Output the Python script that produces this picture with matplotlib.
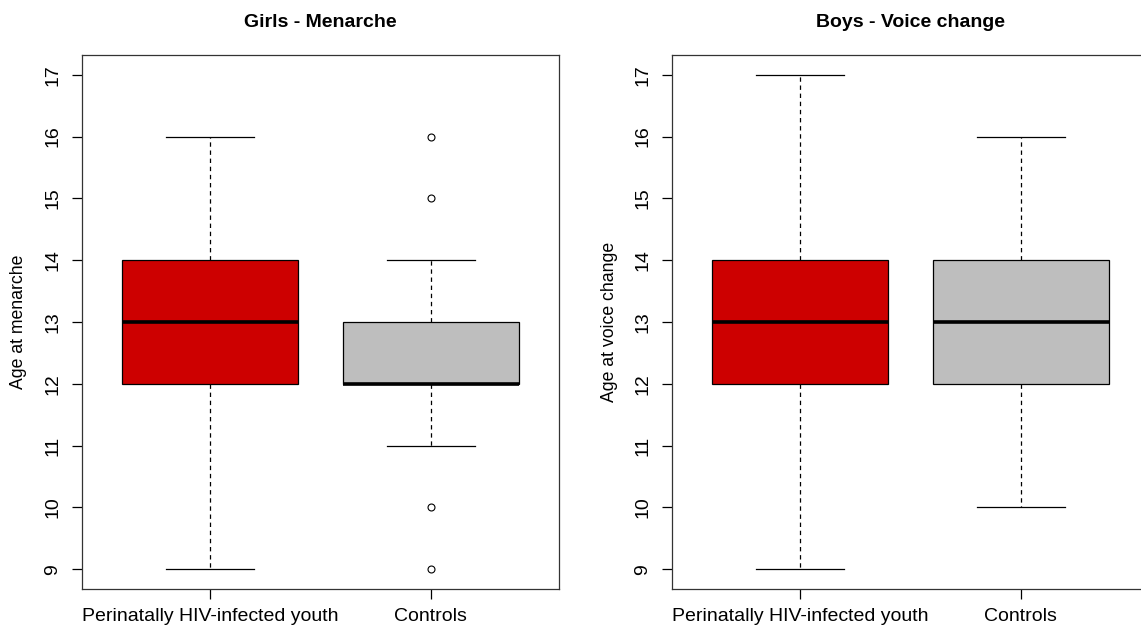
import matplotlib
matplotlib.use("Agg")
import matplotlib.pyplot as plt

plt.rcParams['font.family'] = ['Liberation Sans', 'DejaVu Sans']

groups = ["Perinatally HIV-infected youth", "Controls"]
box_colors = ["#CD0000", "#BEBEBE"]

# five-number summaries per group: low whisker, q1, median, q3, high whisker
girls_stats = [(9, 12, 13, 14, 16), (11, 12, 12, 13, 14)]
girls_outliers = [[], [9, 10, 15, 16]]
boys_stats = [(9, 12, 13, 14, 17), (10, 12, 13, 14, 16)]
boys_outliers = [[], []]

panels = [
    ("Girls - Menarche", "Age at menarche", girls_stats, girls_outliers),
    ("Boys - Voice change", "Age at voice change", boys_stats, boys_outliers),
]

fig = plt.figure(figsize=(11.41, 6.26), dpi=100)
W, H = 1141, 626
lefts = [82, 672]

for left, (title, ylabel, stats, outs) in zip(lefts, panels):
    ax = fig.add_axes([left / W, (H - 589) / H, 477 / W, 534 / H])
    bstats = []
    for lbl, s, o in zip(groups, stats, outs):
        lo, q1, med, q3, hi = s
        bstats.append(dict(label=lbl, whislo=lo, q1=q1, med=med, q3=q3,
                           whishi=hi, fliers=o))
    parts = ax.bxp(bstats, positions=[1, 2], widths=0.8, patch_artist=True,
                   showfliers=True,
                   boxprops=dict(edgecolor="black", linewidth=0.9),
                   medianprops=dict(color="black", linewidth=2.6, solid_capstyle="butt"),
                   whiskerprops=dict(color="black", linewidth=0.9, linestyle=(0, (3.5, 3))),
                   capprops=dict(color="black", linewidth=0.9),
                   capwidths=0.4,
                   flierprops=dict(marker="o", markersize=5, markerfacecolor="white",
                                   markeredgecolor="black", markeredgewidth=0.8))
    for patch, c in zip(parts["boxes"], box_colors):
        patch.set_facecolor(c)

    ax.set_xlim(0.42, 2.58)
    ax.set_ylim(8.68, 17.32)
    ax.set_yticks(range(9, 18))
    ax.set_xticks([1, 2])
    ax.set_xticklabels(groups, fontsize=14)
    for t in ax.get_yticklabels():
        t.set_rotation(90)
        t.set_va("center")
        t.set_fontsize(14)
    ax.tick_params(axis="both", direction="out", length=7, width=0.9)
    ax.tick_params(axis="x", pad=7)
    ax.tick_params(axis="y", pad=8)
    for sp in ax.spines.values():
        sp.set_linewidth(0.9)
        sp.set_color("#333333")
    ax.set_ylabel(ylabel, fontsize=12.7, labelpad=12)
    ax.set_title(title, fontsize=14, fontweight="bold", pad=20)

fig.savefig("out.png", dpi=100)
